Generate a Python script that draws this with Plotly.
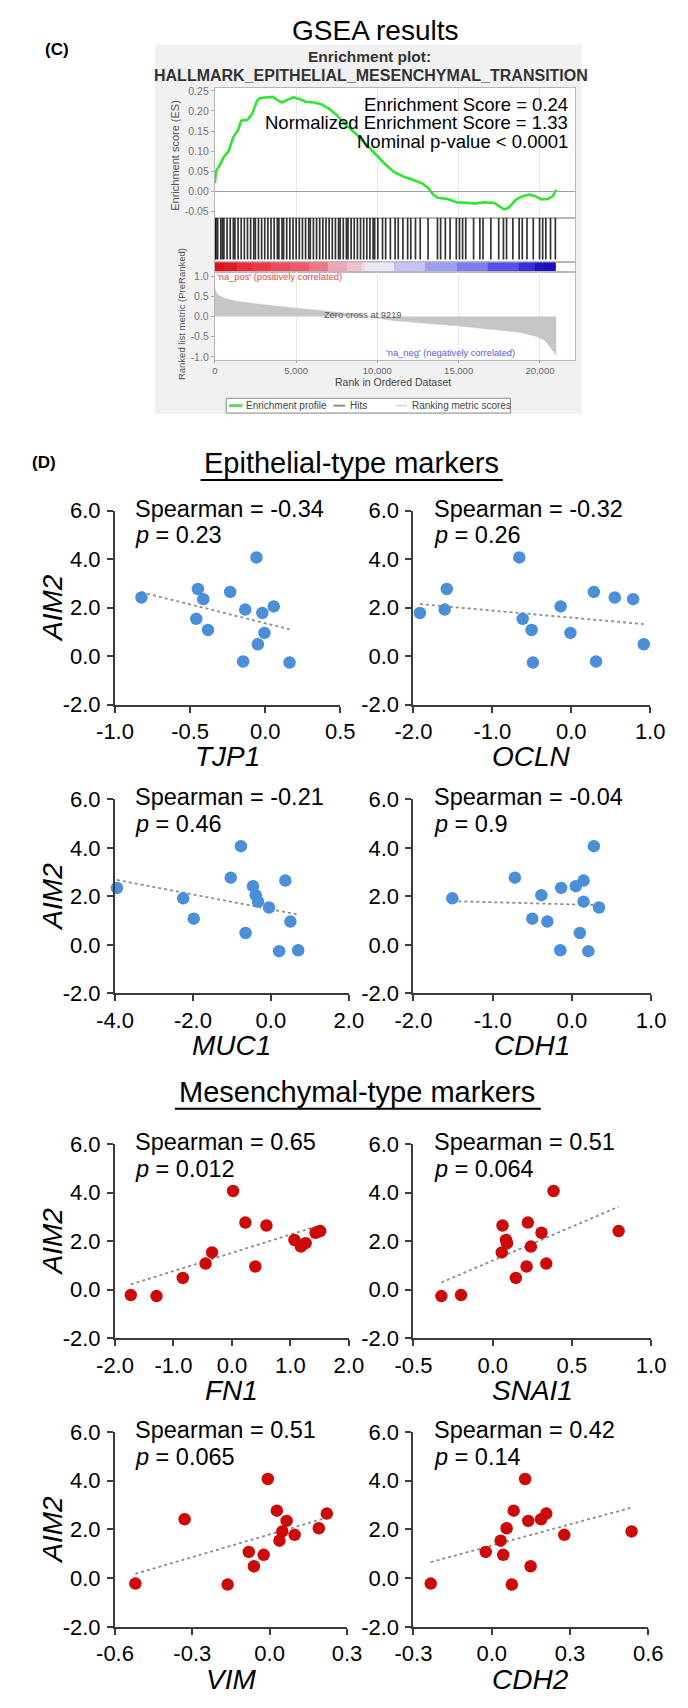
import numpy as np
import plotly.graph_objects as go

# ---------------- GSEA data ----------------
ES_RANK = [0, 77, 367, 560, 850, 1140, 1430, 1620, 2010, 2300, 2590, 2780, 3270, 3560,
           3850, 4140, 4430, 4820, 5200, 5590, 6070, 6550, 7040, 7520, 8100, 8680, 9260,
           9840, 10420, 11000, 11590, 12170, 12750, 13140, 13430, 13720, 14300, 14880,
           15460, 16040, 16620, 17200, 17780, 18070, 18550, 18940, 19330, 19710, 20100,
           20490, 20800, 21000]
ES_VALUE = [0.02, 0.05, 0.07, 0.086, 0.10, 0.135, 0.152, 0.176, 0.178, 0.193, 0.225, 0.232,
            0.234, 0.235, 0.227, 0.221, 0.227, 0.234, 0.23, 0.223, 0.221, 0.217, 0.205, 0.189,
            0.164, 0.143, 0.119, 0.094, 0.07, 0.049, 0.037, 0.029, 0.02, 0.008, -0.008,
            -0.016, -0.019, -0.027, -0.029, -0.03, -0.027, -0.029, -0.045, -0.041, -0.02,
            -0.012, -0.008, -0.012, -0.02, -0.019, -0.012, 0.004]
HIT_RANK = [20, 77, 174, 367, 464, 560, 754, 947, 1140, 1236, 1430, 1623, 1816, 2009, 2202,
            2396, 2492, 2685, 2879, 3072, 3265, 3458, 3651, 3845, 3941, 4134, 4231, 4424,
            4617, 4811, 5004, 5197, 5390, 5583, 5777, 5873, 6066, 6260, 6453, 6646, 6839,
            7032, 7226, 7419, 7612, 7709, 7902, 8095, 8192, 8385, 8578, 8771, 8964, 9158,
            9351, 9544, 9737, 9834, 10027, 10317, 10510, 10800, 11090, 11283, 11573, 11862,
            12056, 12346, 12635, 13118, 13698, 13891, 14181, 14471, 14857, 15050, 15243,
            15437, 15920, 16306, 16499, 16982, 17465, 17755, 17948, 18335, 18721, 18914,
            19204, 19590, 19977, 20170, 20363, 20653, 20950]
METRIC_RANK = [0, 20, 174, 560, 1333, 2299, 3458, 4617, 5777, 6936, 8095, 9061, 9219,
               11000, 12925, 14857, 16789, 18721, 19687, 20267, 20557, 21000]
METRIC_VALUE = [0.79, 0.67, 0.54, 0.46, 0.375, 0.32, 0.27, 0.225, 0.18, 0.13, 0.09, 0.04,
                0.0, -0.10, -0.17, -0.23, -0.31, -0.39, -0.48, -0.58, -0.71, -0.96]
ES_TICKS = [-0.05, 0.0, 0.05, 0.10, 0.15, 0.20, 0.25]
METRIC_TICKS = [-1.0, -0.5, 0.0, 0.5, 1.0]
RANK_TICKS = [0, 5000, 10000, 15000, 20000]
RANK_TICK_TEXT = ["0", "5,000", "10,000", "15,000", "20,000"]
ES_STATS = ["Enrichment Score = 0.24", "Normalized Enrichment Score = 1.33",
            "Nominal p-value < 0.0001"]
ZERO_CROSS = 9219
LEGEND_NAMES = ["Enrichment profile", "Hits", "Ranking metric scores"]

# ---------------- Correlation data (14 samples) ----------------
AIM2 = [4.07, 2.77, 2.65, 2.42, 2.35, 2.05, 1.92, 1.78, 1.54, 1.08, 0.96, 0.49, -0.22, -0.26]
TJP1 = [-0.058, -0.448, -0.233, -0.824, -0.412, 0.057, -0.133, -0.019, -0.459, -0.381,
        -0.005, -0.049, -0.147, 0.162]
OCLN = [-0.659, -1.578, 0.286, 0.551, 0.784, -0.135, -1.605, -1.919, -0.616, -0.503,
        -0.011, 0.919, 0.314, -0.486]
MUC1 = [-0.77, -1.03, 0.37, -0.46, -3.95, -0.39, -2.25, -0.33, -0.05, -1.98, 0.50, -0.65,
        0.70, 0.21]
CDH1 = [0.277, -0.72, 0.147, 0.049, -0.136, -0.386, -1.51, 0.147, 0.342, -0.5, -0.31,
        0.10, -0.147, 0.207]
FN1 = [0.02, 0.23, 0.59, 1.51, 1.43, 1.07, 1.26, 1.18, -0.34, -0.45, 0.40, -0.84, -1.73,
       -1.29]
SNAI1 = [0.384, 0.222, 0.062, 0.795, 0.308, 0.084, 0.09, 0.241, 0.057, 0.338, 0.214,
         0.146, -0.2, -0.324]
VIM = [-0.007, 0.028, 0.222, -0.33, 0.066, 0.191, 0.049, 0.097, 0.038, -0.081, -0.023,
       -0.061, -0.521, -0.163]
CDH2 = [0.128, 0.084, 0.209, 0.189, 0.140, 0.057, 0.536, 0.278, 0.034, -0.023, 0.044,
        0.149, -0.234, 0.077]

GENES = ["TJP1", "OCLN", "MUC1", "CDH1", "FN1", "SNAI1", "VIM", "CDH2"]
GENE_VALUES = [TJP1, OCLN, MUC1, CDH1, FN1, SNAI1, VIM, CDH2]
SPEARMAN = ["-0.34", "-0.32", "-0.21", "-0.04", "0.65", "0.51", "0.51", "0.42"]
P_VALUES = ["0.23", "0.26", "0.46", "0.9", "0.012", "0.064", "0.065", "0.14"]
X_TICKS = [[-1.0, -0.5, 0.0, 0.5], [-2.0, -1.0, 0.0, 1.0], [-4.0, -2.0, 0.0, 2.0],
           [-2.0, -1.0, 0.0, 1.0], [-2.0, -1.0, 0.0, 1.0, 2.0], [-0.5, 0.0, 0.5, 1.0],
           [-0.6, -0.3, 0.0, 0.3], [-0.3, 0.0, 0.3, 0.6]]
Y_TICKS = [-2.0, 0.0, 2.0, 4.0, 6.0]
SECTIONS = ["Epithelial-type markers", "Mesenchymal-type markers"]

# ---------------- geometry / style ----------------
W, H = 688, 1708
FONT = "Liberation Sans, Arial, Helvetica, sans-serif"


def fx(p):
    return p / W


def fy(p):
    return 1 - p / H


G_LEFT, G_RIGHT = 206, 585
PX_PER_RANK = 0.0171
RANK_MAX = (G_RIGHT - G_LEFT) / PX_PER_RANK
ES_TOP, ES_BOT, HIT_BOT, BAR_BOT, MET_BOT = 77, 209, 254, 264, 353

fig = go.Figure()
annotations = []
shapes = []


def note(text, x, y, size, color="black", xanchor="center", yanchor="middle", angle=0,
         bold=False):
    if bold:
        text = "<b>" + text + "</b>"
    annotations.append(dict(text=text, x=fx(x), y=fy(y), xref="paper", yref="paper",
                            xanchor=xanchor, yanchor=yanchor, showarrow=False,
                            textangle=angle, borderpad=0,
                            font=dict(size=size, color=color, family=FONT)))


def hline(x0, x1, y, color, width):
    shapes.append(dict(type="line", xref="paper", yref="paper", x0=fx(x0), x1=fx(x1),
                       y0=fy(y), y1=fy(y), line=dict(color=color, width=width)))


# background of GSEA panel
shapes.append(dict(type="rect", xref="paper", yref="paper", x0=fx(143), x1=fx(592),
                   y0=fy(408), y1=fy(33), fillcolor="#f1f1f1", line_width=0, layer="below"))
shapes.append(dict(type="rect", xref="paper", yref="paper", x0=fx(G_LEFT), x1=fx(G_RIGHT),
                   y0=fy(MET_BOT), y1=fy(ES_TOP), fillcolor="white", line_width=0,
                   layer="below"))

# ES curve
fig.add_trace(go.Scatter(x=ES_RANK, y=ES_VALUE, mode="lines", xaxis="x", yaxis="y",
                         line=dict(color="#2fe62f", width=2.6), showlegend=False,
                         hoverinfo="skip"))
# hits
hx, hy = [], []
for r in HIT_RANK:
    hx += [r, r, None]
    hy += [0.06, 1, None]
fig.add_trace(go.Scatter(x=hx, y=hy, mode="lines", xaxis="x2", yaxis="y2",
                         line=dict(color="rgba(0,0,0,0.8)", width=1.7), showlegend=False,
                         hoverinfo="skip"))
# ranked colour bar
fig.add_trace(go.Heatmap(x=METRIC_RANK, y=[0, 1], z=[METRIC_VALUE[:-1]], xaxis="x3",
                         yaxis="y3", zmin=-0.5, zmax=0.5, showscale=False, hoverinfo="skip",
                         colorscale=[[0.0, "#1a0fbf"], [0.12, "#3a30d8"], [0.2, "#5c55e8"],
                                     [0.3, "#8c8cf0"], [0.42, "#cfcff5"], [0.5, "#ece8f6"],
                                     [0.58, "#f4c8d6"], [0.64, "#f2a0b2"], [0.7, "#f06070"],
                                     [0.85, "#ec3040"], [1.0, "#e0101a"]]))
# ranked metric
fig.add_trace(go.Scatter(x=METRIC_RANK, y=METRIC_VALUE, mode="lines", xaxis="x4",
                         yaxis="y4", fill="tozeroy", fillcolor="#c6c6c6",
                         line=dict(color="#c6c6c6", width=0.5), showlegend=False,
                         hoverinfo="skip"))

frame = dict(showline=True, linecolor="#b8b8b8", linewidth=1, mirror=True, zeroline=False)
lay = dict(
    xaxis=dict(domain=[fx(G_LEFT), fx(G_RIGHT)], range=[0, RANK_MAX], anchor="y",
               tickvals=RANK_TICKS, showticklabels=False, ticks="", showgrid=True,
               gridcolor="#e8e8e8", **frame),
    yaxis=dict(domain=[fy(ES_BOT), fy(ES_TOP)], range=[-0.0662, 0.2574], anchor="x",
               tickvals=ES_TICKS, ticktext=["%.2f" % v for v in ES_TICKS], ticks="outside",
               ticklen=3, tickcolor="#aaaaaa", showgrid=False,
               tickfont=dict(size=10.5, color="#777777", family=FONT),
               showline=True, linecolor="#b8b8b8", mirror=True, zeroline=True,
               zerolinecolor="#a0a0a0", zerolinewidth=1),
    xaxis2=dict(domain=[fx(G_LEFT), fx(G_RIGHT)], range=[0, RANK_MAX], anchor="y2",
                matches="x", showticklabels=False, ticks="", showgrid=False, **frame),
    yaxis2=dict(domain=[fy(HIT_BOT), fy(ES_BOT)], range=[0, 1], anchor="x2",
                showticklabels=False, ticks="", showgrid=False, **frame),
    xaxis3=dict(domain=[fx(G_LEFT), fx(G_RIGHT)], range=[0, RANK_MAX], anchor="y3",
                matches="x", showticklabels=False, ticks="", showgrid=False, **frame),
    yaxis3=dict(domain=[fy(BAR_BOT), fy(HIT_BOT)], range=[0, 1], anchor="x3",
                showticklabels=False, ticks="", showgrid=False, **frame),
    xaxis4=dict(domain=[fx(G_LEFT), fx(G_RIGHT)], range=[0, RANK_MAX], anchor="y4",
                matches="x", tickvals=RANK_TICKS, ticktext=RANK_TICK_TEXT, ticks="outside",
                ticklen=2, tickcolor="#aaaaaa", showgrid=True, gridcolor="#e8e8e8",
                ticklabelstandoff=0,
                tickfont=dict(size=9.5, color="#666666", family=FONT), **frame),
    yaxis4=dict(domain=[fy(MET_BOT), fy(BAR_BOT)], range=[-1.073, 1.0976], anchor="x4",
                tickvals=METRIC_TICKS, ticktext=["%.1f" % v for v in METRIC_TICKS],
                ticks="outside", ticklen=3, tickcolor="#aaaaaa", showgrid=False,
                tickfont=dict(size=10.5, color="#777777", family=FONT), **frame),
)

# GSEA texts
note("GSEA results", 375, 19, 28)
note("(C)", 40, 38, 17, bold=True)
note("Enrichment plot:", 369, 45, 15.5, color="#333333", bold=True)
note("HALLMARK_EPITHELIAL_MESENCHYMAL_TRANSITION", 370, 64, 16, color="#333333", bold=True)
for i, s in enumerate(ES_STATS):
    note(s, 579, 94 + 18.5 * i, 18.5, xanchor="right")
note("Enrichment score (ES)", 164, 145, 11, color="#555555", angle=-90)
note("Ranked list metric (PreRanked)", 171, 307, 9.5, color="#555555", angle=-90)
note("Rank in Ordered Dataset", 393, 376, 10.5, color="#444444")
note("'na_pos' (positively correlated)", 207, 269, 9.3, color="#e04848", xanchor="left")
note("Zero cross at %d" % ZERO_CROSS, 362, 308, 9.3, color="#555555")
note("'na_neg' (negatively correlated)", 523, 346, 9.3, color="#5a5ae0", xanchor="right")

# manual legend of the GSEA plot
shapes.append(dict(type="rect", xref="paper", yref="paper", x0=fx(218), x1=fx(517),
                   y0=fy(407), y1=fy(392), fillcolor="white",
                   line=dict(color="#8a8a8a", width=1)))
for (x0, x1, tx), name, col, lw in zip([(221, 235, 238), (331, 343, 347), (397, 408, 412)],
                                       LEGEND_NAMES, ["#5fd85f", "#8a8a8a", "#dddddd"],
                                       [3, 2, 2]):
    hline(x0, x1, 399.5, col, lw)
    note(name, tx, 399.5, 10, color="#444444", xanchor="left")

# ---------------- correlation panels ----------------
ROW_TOP = [506, 799, 1149, 1441]
ROW_BOT = [703, 996, 1346, 1639]
COL_LEFT = [101, 415]
ROW_RIGHT = [[338, 664], [347, 665], [347, 665], [345, 662]]
AX_COLOR = "#3c3c3c"

note("(D)", 26, 457, 17, bold=True)
for title, cx, ty, uy, ux0, ux1 in [(SECTIONS[0], 350, 458, 475, 191, 509),
                                     (SECTIONS[1], 356, 1096, 1113, 164, 549)]:
    note(title, cx, ty, 29)
    hline(ux0, ux1, uy, "black", 2)

for i, gene in enumerate(GENES):
    k = 5 + i
    row, col = i // 2, i % 2
    left, right = COL_LEFT[col], ROW_RIGHT[row][col]
    xs = np.array(GENE_VALUES[i], dtype=float)
    ys = np.array(AIM2, dtype=float)
    color = "#4a8fd8" if i < 4 else "#cc0a0a"
    xa, ya = "x%d" % k, "y%d" % k
    slope, icpt = np.polyfit(xs, ys, 1)
    lx = np.array([xs.min(), xs.max()])
    fig.add_trace(go.Scatter(x=lx, y=slope * lx + icpt, mode="lines", xaxis=xa, yaxis=ya,
                             line=dict(color="#8c8c8c", width=1.8, dash="dot"),
                             showlegend=False, hoverinfo="skip"))
    fig.add_trace(go.Scatter(x=xs, y=ys, mode="markers", xaxis=xa, yaxis=ya,
                             marker=dict(size=12.5, color=color, line=dict(width=0)),
                             cliponaxis=False, showlegend=False))
    xt = X_TICKS[i]
    axis_common = dict(ticks="outside", ticklen=6, tickwidth=2, tickcolor=AX_COLOR,
                       showline=True, linecolor=AX_COLOR, linewidth=2, showgrid=False,
                       zeroline=False, tickfont=dict(size=22, color="black", family=FONT))
    lay["xaxis%d" % k] = dict(domain=[fx(left), fx(right)], range=[xt[0], xt[-1]],
                              tickvals=xt, ticktext=["%.1f" % v for v in xt], anchor=ya,
                              ticklabelstandoff=0, **axis_common)
    lay["yaxis%d" % k] = dict(domain=[fy(ROW_BOT[row]), fy(ROW_TOP[row])], range=[-2, 6],
                              tickvals=Y_TICKS, ticktext=["%.1f" % v for v in Y_TICKS],
                              anchor=xa, ticklabelstandoff=2, **axis_common)
    note("Spearman = " + SPEARMAN[i], left + 20, ROW_TOP[row] - 2, 23.5, xanchor="left")
    note("<i>p</i> = " + P_VALUES[i], left + 20, ROW_TOP[row] + 25, 23.5, xanchor="left")
    note("<i>" + gene + "</i>", (left + right) / 2, ROW_BOT[row] + 53, 28)
    if col == 0:
        note("<i>AIM2</i>", 35, (ROW_TOP[row] + ROW_BOT[row]) / 2, 28, angle=-90)

fig.update_layout(
    width=W, height=H, margin=dict(l=0, r=0, t=0, b=0), autosize=False,
    paper_bgcolor="white", plot_bgcolor="rgba(0,0,0,0)",
    font=dict(family=FONT, color="black"), showlegend=False,
    annotations=annotations, shapes=shapes,
    **lay,
)
fig.write_html("out.html")
